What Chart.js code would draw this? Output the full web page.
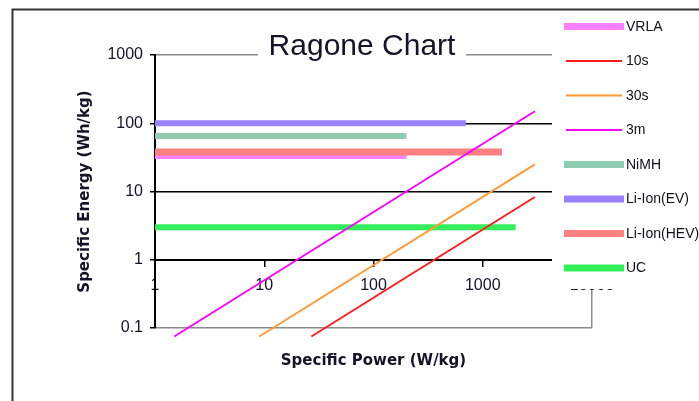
<!DOCTYPE html>
<html>
<head>
<meta charset="utf-8">
<script src="https://cdn.jsdelivr.net/npm/chart.js@4.4.1/dist/chart.umd.min.js"></script>
<style>
  html, body { margin: 0; padding: 0; background: #fff; overflow: hidden; }
  canvas { display: block; }
</style>
</head>
<body>
<canvas id="ragone" width="699" height="401"></canvas>
<script>
// Ragone chart: specific energy vs specific power, log-log
const chartTitle = 'Ragone Chart';
const seriesNames = ['VRLA', '10s', '30s', '3m', 'NiMH', 'Li-Ion(EV)', 'Li-Ion(HEV)', 'UC'];

// end points of each series: power in W/kg, energy in Wh/kg
const vrlaPower = [1, 200];     const vrlaEnergy = [33, 33];
const sec10Power = [27, 3000];  const sec10Energy = [0.075, 8.3];
const sec30Power = [9, 3000];   const sec30Energy = [0.075, 25];
const min3Power = [1.5, 3000];  const min3Energy = [0.075, 150];
const nimhPower = [1, 200];     const nimhEnergy = [65, 65];
const liEvPower = [1, 700];     const liEvEnergy = [100, 100];
const liHevPower = [1, 1500];   const liHevEnergy = [38, 38];
const ucPower = [1, 2000];      const ucEnergy = [3, 3];

const xTickValues = [1, 10, 100, 1000, 10000];
const xTickLabels = ['1', '10', '100', '1000', '10000'];
const yTickValues = [0.1, 1, 10, 100, 1000];
const yTickLabels = ['0.1', '1', '10', '100', '1000'];

const pairs = (px, ey) => px.map((p, i) => ({ x: p, y: ey[i] }));
const seriesData = [
  pairs(vrlaPower, vrlaEnergy),
  pairs(sec10Power, sec10Energy),
  pairs(sec30Power, sec30Energy),
  pairs(min3Power, min3Energy),
  pairs(nimhPower, nimhEnergy),
  pairs(liEvPower, liEvEnergy),
  pairs(liHevPower, liHevEnergy),
  pairs(ucPower, ucEnergy)
];

// styling per series
const seriesColors = ['#ff80ff', '#ff1a1a', '#ff9933', '#ff00ff', '#8fcdb0', '#9980ff', '#ff8080', '#33f05a'];
const seriesWidths = [6, 1.9, 1.9, 1.9, 6, 6, 7, 6];
const seriesOrder  = [3, 0, 0, 0, 2, 2, 1, 2];

const inkColor = '#141428';
const borderGray = '#8c8c8c';

// frame, title panel and legend panel painted over the plot
const decor = {
  id: 'decor',
  afterDraw(chart) {
    const c = chart.ctx;
    c.save();
    // title on a white backdrop
    c.fillStyle = '#fff';
    c.fillRect(258, 28, 208, 31);
    c.fillStyle = inkColor;
    c.font = '30px "Liberation Sans", Arial, sans-serif';
    c.textAlign = 'center';
    c.textBaseline = 'alphabetic';
    c.fillText(chartTitle, 362, 54.5);

    // legend
    c.fillStyle = '#fff';
    c.fillRect(552, 11, 147, 278);
    chart.data.datasets.forEach((ds, i) => {
      const y = 26.5 + i * 34.5;
      const thick = ds.borderWidth > 3;
      c.strokeStyle = ds.borderColor;
      c.lineWidth = thick ? 7 : 2;
      c.lineCap = 'butt';
      c.beginPath();
      c.moveTo(thick ? 564 : 566, y);
      c.lineTo(thick ? 624 : 622, y);
      c.stroke();
      c.fillStyle = '#101018';
      c.font = '14px "Liberation Sans", Arial, sans-serif';
      c.textAlign = 'left';
      c.textBaseline = 'middle';
      c.fillText(ds.label, 626, y + 0.5);
    });

    // outer frame
    c.strokeStyle = '#363636';
    c.lineWidth = 2;
    c.strokeRect(12.5, 9.5, 1200, 1200);
    c.restore();
  }
};

new Chart(document.getElementById('ragone'), {
  type: 'line',
  data: {
    datasets: seriesNames.map((name, i) => ({
      label: name,
      data: seriesData[i],
      borderColor: seriesColors[i],
      backgroundColor: seriesColors[i],
      borderWidth: seriesWidths[i],
      borderCapStyle: 'butt',
      pointRadius: 0,
      tension: 0,
      fill: false,
      clip: false,
      order: seriesOrder[i]
    }))
  },
  options: {
    responsive: false,
    animation: false,
    events: [],
    layout: { padding: { top: 55, right: 107, bottom: 0, left: 0 } },
    plugins: {
      legend: { display: false },
      title: { display: false },
      tooltip: { enabled: false }
    },
    scales: {
      x: {
        type: 'logarithmic',
        position: { y: 1 },
        min: 1,
        max: 10000,
        afterBuildTicks: s => { s.ticks = xTickValues.map(v => ({ value: v })); },
        ticks: {
          callback: (v, i) => xTickLabels[i],
          autoSkip: false,
          maxRotation: 0,
          padding: 10,
          color: inkColor,
          font: { family: '"Liberation Sans", Arial, sans-serif', size: 16 }
        },
        grid: {
          drawOnChartArea: true,
          color: ctx => (ctx.tick && ctx.tick.value === 10000) ? borderGray : 'rgba(0,0,0,0)',
          tickColor: '#000',
          tickLength: 6,
          lineWidth: 1.5
        },
        border: { display: true, color: '#000', width: 2 }
      },
      xTitle: {
        type: 'logarithmic',
        axis: 'x',
        position: 'bottom',
        min: 1,
        max: 10000,
        afterFit: s => { s.height = 73; },
        ticks: { display: false },
        grid: { display: false },
        border: { display: false },
        title: {
          display: true,
          text: 'Specific Power (W/kg)',
          color: inkColor,
          font: { family: '"DejaVu Sans", sans-serif', size: 15, weight: 'bold' },
          padding: { top: 0, bottom: 31 }
        }
      },
      y: {
        type: 'logarithmic',
        position: 'left',
        min: 0.1,
        max: 1000,
        afterFit: s => { s.width = 155; },
        afterBuildTicks: s => { s.ticks = yTickValues.map(v => ({ value: v })); },
        ticks: {
          callback: (v, i) => yTickLabels[i],
          padding: 7,
          color: inkColor,
          font: { family: '"Liberation Sans", Arial, sans-serif', size: 16 }
        },
        grid: {
          color: ctx => (ctx.tick && (ctx.tick.value === 1000 || ctx.tick.value === 0.1)) ? borderGray : '#000',
          tickColor: '#000',
          tickLength: 5,
          lineWidth: 1.5
        },
        border: { display: true, color: '#000', width: 2 },
        title: {
          display: true,
          text: 'Specific Energy (Wh/kg)',
          color: inkColor,
          font: { family: '"DejaVu Sans", sans-serif', size: 15, weight: 'bold' },
          padding: { top: 76, bottom: 0 }
        }
      }
    }
  },
  plugins: [decor]
});
</script>
</body>
</html>
